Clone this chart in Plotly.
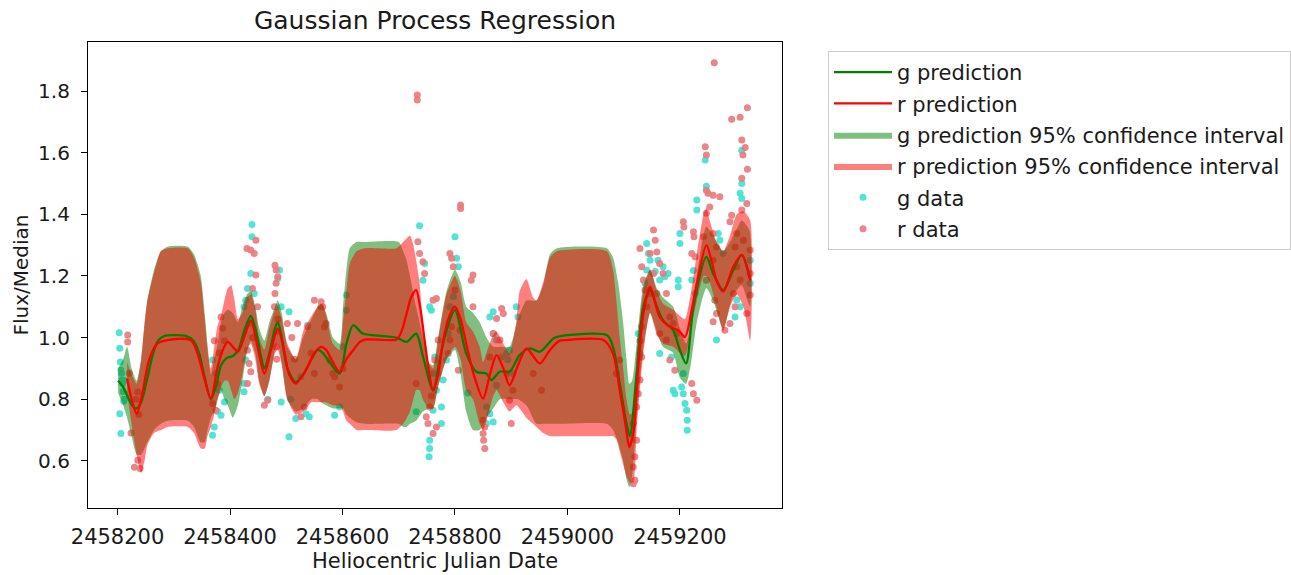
import plotly.graph_objects as go

# ---------------- data ----------------
g_pred_x = [2458201, 2458210, 2458220, 2458228, 2458234, 2458242, 2458252, 2458262, 2458272, 2458283,
            2458300, 2458320, 2458335, 2458345, 2458355, 2458366, 2458375, 2458384, 2458395, 2458405,
            2458415, 2458425, 2458437, 2458445, 2458455, 2458461, 2458470, 2458480, 2458485, 2458492,
            2458502, 2458517, 2458530, 2458545, 2458556, 2458565, 2458577, 2458595, 2458607, 2458619,
            2458636, 2458654, 2458696, 2458714, 2458731, 2458743, 2458761, 2458773, 2458785, 2458800,
            2458820, 2458838, 2458856, 2458865, 2458880, 2458897, 2458915, 2458933, 2458951, 2458975,
            2458986, 2459000, 2459070, 2459081, 2459093, 2459105, 2459111, 2459123, 2459135, 2459147,
            2459159, 2459170, 2459188, 2459200, 2459211, 2459224, 2459247, 2459259, 2459277, 2459295,
            2459310, 2459325]
g_pred_y = [0.860, 0.840, 0.800, 0.775, 0.770, 0.790, 0.860, 0.940, 0.990, 1.005,
            1.008, 1.006, 0.990, 0.950, 0.870, 0.800, 0.840, 0.910, 0.935, 0.940,
            0.960, 1.020, 1.070, 1.030, 0.940, 0.900, 0.950, 1.030, 1.050, 1.000,
            0.900, 0.856, 0.880, 0.930, 0.960, 0.950, 0.920, 0.883, 0.980, 1.040,
            1.013, 1.008, 1.000, 0.986, 1.013, 0.940, 0.829, 0.930, 1.024, 1.089,
            0.948, 0.889, 0.883, 0.862, 0.890, 0.889, 0.943, 0.965, 0.954, 0.997,
            1.004, 1.008, 1.008, 0.970, 0.851, 0.721, 0.680, 0.883, 1.100, 1.154,
            1.100, 1.056, 1.024, 0.959, 0.916, 1.100, 1.262, 1.208, 1.154, 1.219,
            1.268, 1.186]

r_pred_x = [2458217, 2458225, 2458234, 2458244, 2458256, 2458271, 2458289, 2458330, 2458342, 2458354,
            2458366, 2458378, 2458387, 2458396, 2458405, 2458414, 2458425, 2458437, 2458449, 2458461,
            2458473, 2458485, 2458497, 2458505, 2458517, 2458530, 2458538, 2458550, 2458562, 2458571,
            2458583, 2458595, 2458607, 2458619, 2458631, 2458642, 2458696, 2458705, 2458714, 2458722,
            2458731, 2458738, 2458746, 2458753, 2458761, 2458770, 2458779, 2458790, 2458800, 2458810,
            2458820, 2458835, 2458850, 2458862, 2458874, 2458886, 2458897, 2458912, 2458927, 2458939,
            2458951, 2458969, 2458986, 2458998, 2459064, 2459081, 2459093, 2459103, 2459110, 2459118,
            2459123, 2459135, 2459147, 2459155, 2459164, 2459182, 2459197, 2459209, 2459220, 2459230,
            2459247, 2459256, 2459265, 2459277, 2459295, 2459310, 2459325]
r_pred_y = [0.867, 0.800, 0.753, 0.818, 0.927, 0.981, 0.992, 0.992, 0.950, 0.870,
            0.802, 0.905, 0.959, 0.986, 0.970, 0.954, 1.000, 1.056, 0.970, 0.883,
            0.960, 1.029, 0.950, 0.880, 0.851, 0.880, 0.905, 0.950, 0.970, 0.960,
            0.920, 0.889, 0.930, 0.959, 0.986, 0.994, 0.994, 1.020, 1.078, 1.130,
            1.154, 1.100, 0.992, 0.900, 0.829, 0.880, 0.990, 1.070, 1.100, 1.060,
            0.980, 0.870, 0.802, 0.880, 0.943, 0.900, 0.845, 0.910, 0.965, 0.940,
            0.916, 0.960, 0.990, 0.992, 0.992, 0.948, 0.829, 0.720, 0.645, 0.700,
            0.830, 1.078, 1.165, 1.120, 1.067, 1.035, 1.024, 1.002, 1.080, 1.176,
            1.300, 1.250, 1.186, 1.149, 1.230, 1.268, 1.186]

g_ci_x = [2458201, 2458210, 2458217, 2458225, 2458234, 2458242, 2458253, 2458265, 2458277, 2458289,
          2458325, 2458336, 2458348, 2458355, 2458360, 2458366, 2458372, 2458378, 2458384, 2458390,
          2458396, 2458405, 2458414, 2458422, 2458430, 2458437, 2458445, 2458452, 2458461, 2458470,
          2458480, 2458485, 2458492, 2458502, 2458517, 2458530, 2458545, 2458556, 2458562, 2458571,
          2458583, 2458595, 2458601, 2458607, 2458613, 2458625, 2458640, 2458700, 2458708, 2458714,
          2458720, 2458731, 2458743, 2458753, 2458761, 2458770, 2458785, 2458800, 2458810, 2458820,
          2458832, 2458844, 2458856, 2458868, 2458880, 2458897, 2458912, 2458927, 2458945, 2458957,
          2458969, 2458981, 2459070, 2459081, 2459090, 2459099, 2459105, 2459110, 2459115, 2459123,
          2459135, 2459147, 2459159, 2459170, 2459188, 2459200, 2459211, 2459220, 2459230, 2459247,
          2459259, 2459277, 2459295, 2459310, 2459320, 2459325]
g_ci_upper = [0.90, 0.93, 0.97, 0.90, 0.86, 0.93, 1.12, 1.22, 1.28, 1.295,
              1.295, 1.27, 1.20, 1.08, 0.98, 0.88, 0.93, 0.98, 1.05, 1.08,
              1.09, 1.08, 1.05, 1.10, 1.14, 1.15, 1.10, 1.03, 0.99, 1.05,
              1.10, 1.12, 1.08, 0.97, 0.93, 1.00, 1.06, 1.10, 1.11, 1.08,
              1.00, 0.98, 1.10, 1.22, 1.29, 1.31, 1.31, 1.31, 1.28, 1.25,
              1.20, 1.10, 1.00, 0.92, 0.91, 1.00, 1.15, 1.22, 1.18, 1.10,
              1.08, 1.05, 1.00, 0.97, 0.97, 0.97, 1.06, 1.12, 1.12, 1.17,
              1.27, 1.29, 1.29, 1.26, 1.18, 1.05, 0.93, 0.85, 0.86, 0.98,
              1.17, 1.22, 1.16, 1.13, 1.10, 1.03, 0.98, 1.05, 1.20, 1.36,
              1.33, 1.28, 1.33, 1.38, 1.36, 1.34]
g_ci_lower = [0.82, 0.78, 0.74, 0.68, 0.62, 0.62, 0.66, 0.70, 0.72, 0.73,
              0.73, 0.71, 0.66, 0.66, 0.70, 0.74, 0.76, 0.80, 0.83, 0.80,
              0.78, 0.74, 0.78, 0.86, 0.95, 0.99, 0.95, 0.86, 0.81, 0.86,
              0.96, 0.98, 0.92, 0.80, 0.76, 0.77, 0.80, 0.80, 0.79, 0.78,
              0.77, 0.77, 0.77, 0.75, 0.74, 0.725, 0.72, 0.72, 0.71, 0.71,
              0.72, 0.73, 0.76, 0.77, 0.77, 0.84, 0.93, 0.96, 0.88, 0.76,
              0.70, 0.70, 0.74, 0.77, 0.80, 0.80, 0.80, 0.78, 0.72, 0.72,
              0.72, 0.72, 0.72, 0.70, 0.66, 0.60, 0.54, 0.515, 0.55, 0.74,
              0.97, 1.08, 1.02, 0.97, 0.95, 0.87, 0.85, 0.92, 1.05, 1.16,
              1.12, 1.03, 1.14, 1.17, 1.12, 1.10]

r_ci_x = [2458217, 2458225, 2458234, 2458242, 2458248, 2458253, 2458265, 2458277, 2458289, 2458325,
          2458336, 2458348, 2458355, 2458360, 2458366, 2458372, 2458378, 2458384, 2458390, 2458396,
          2458402, 2458408, 2458414, 2458422, 2458430, 2458437, 2458445, 2458452, 2458461, 2458470,
          2458480, 2458485, 2458492, 2458502, 2458517, 2458530, 2458545, 2458556, 2458565, 2458571,
          2458583, 2458595, 2458601, 2458607, 2458613, 2458625, 2458640, 2458696, 2458708, 2458720,
          2458726, 2458731, 2458737, 2458743, 2458753, 2458761, 2458770, 2458785, 2458800, 2458810,
          2458820, 2458832, 2458844, 2458850, 2458856, 2458868, 2458874, 2458886, 2458897, 2458909,
          2458915, 2458927, 2458939, 2458945, 2458957, 2458969, 2458981, 2459070, 2459081, 2459087,
          2459093, 2459099, 2459105, 2459111, 2459117, 2459123, 2459135, 2459147, 2459159, 2459170,
          2459188, 2459200, 2459209, 2459220, 2459230, 2459242, 2459247, 2459253, 2459265, 2459277,
          2459289, 2459301, 2459313, 2459325]
r_ci_upper = [0.92, 0.88, 0.85, 0.93, 1.05, 1.12, 1.21, 1.28, 1.29, 1.29,
              1.26, 1.18, 1.06, 0.96, 0.90, 0.97, 1.04, 1.07, 1.12, 1.16,
              1.17, 1.12, 1.06, 1.08, 1.13, 1.14, 1.09, 1.00, 0.96, 1.03,
              1.09, 1.10, 1.06, 0.98, 0.93, 1.02, 1.07, 1.10, 1.11, 1.07,
              0.98, 0.96, 1.05, 1.15, 1.24, 1.28, 1.29, 1.29, 1.31, 1.33,
              1.30, 1.25, 1.18, 1.04, 0.92, 0.90, 0.99, 1.14, 1.20, 1.15,
              1.05, 1.02, 0.97, 0.92, 0.95, 1.01, 1.02, 0.98, 0.95, 1.05,
              1.15, 1.19, 1.13, 1.12, 1.18, 1.26, 1.28, 1.28, 1.22, 1.12,
              1.00, 0.90, 0.80, 0.75, 0.76, 0.94, 1.15, 1.22, 1.15, 1.11,
              1.09, 1.07, 1.06, 1.15, 1.27, 1.40, 1.42, 1.38, 1.31, 1.28,
              1.33, 1.40, 1.41, 1.38]
r_ci_lower = [0.82, 0.72, 0.62, 0.56, 0.60, 0.65, 0.69, 0.70, 0.71, 0.71,
              0.69, 0.64, 0.64, 0.68, 0.71, 0.75, 0.80, 0.84, 0.86, 0.86,
              0.83, 0.80, 0.82, 0.88, 0.96, 0.98, 0.93, 0.85, 0.81, 0.86,
              0.95, 0.96, 0.91, 0.80, 0.75, 0.76, 0.79, 0.79, 0.79, 0.79,
              0.78, 0.78, 0.76, 0.73, 0.72, 0.70, 0.70, 0.70, 0.72, 0.76,
              0.80, 0.83, 0.83, 0.80, 0.77, 0.77, 0.84, 0.93, 0.97, 0.93,
              0.83, 0.80, 0.72, 0.70, 0.73, 0.81, 0.83, 0.79, 0.76, 0.78,
              0.77, 0.74, 0.72, 0.71, 0.69, 0.68, 0.68, 0.68, 0.68, 0.67,
              0.63, 0.59, 0.55, 0.53, 0.53, 0.70, 0.95, 1.08, 1.01, 0.98,
              0.97, 0.95, 0.94, 1.03, 1.12, 1.20, 1.20, 1.18, 1.10, 1.02,
              1.10, 1.14, 1.10, 0.99]

g_data_x = [2458203, 2458204, 2458205, 2458206, 2458207, 2458208, 2458209, 2458210, 2458211, 2458204,
            2458206, 2458212, 2458212,
            2458369, 2458375, 2458381, 2458384, 2458372, 2458369, 2458390, 2458378,
            2458439, 2458439, 2458437, 2458431, 2458428, 2458425, 2458443, 2458434, 2458428, 2458425, 2458425,
            2458488, 2458485, 2458491, 2458505, 2458467, 2458505, 2458491,
            2458508, 2458517, 2458538, 2458541, 2458535, 2458526,
            2458607, 2458607, 2458586, 2458595, 2458601,
            2458737, 2458731, 2458743, 2458746,
            2458755, 2458758, 2458761, 2458764, 2458770, 2458767, 2458776, 2458779, 2458755, 2458754,
            2458755, 2458776, 2458761,
            2458800, 2458803, 2458806, 2458797, 2458791, 2458788, 2458785, 2458823,
            2458868, 2458862, 2458868, 2458874, 2458883, 2458856, 2458862, 2458868, 2458856, 2458892,
            2458894, 2458897, 2458909, 2458912, 2458903, 2458874,
            2459129, 2459126, 2459141, 2459144, 2459147, 2459141, 2459138,
            2459164, 2459161, 2459170, 2459173, 2459156, 2459179, 2459164, 2459185, 2459188, 2459191,
            2459197, 2459197, 2459200, 2459200, 2459203, 2459206, 2459209, 2459212, 2459213, 2459213,
            2459206, 2459230, 2459230, 2459224, 2459221, 2459227,
            2459245, 2459247, 2459265, 2459268, 2459271, 2459277,
            2459310, 2459310, 2459307, 2459310, 2459325, 2459325, 2459301, 2459307, 2459298]
g_data_y = [1.016, 0.965, 0.921, 0.895, 0.884, 0.862, 0.851, 0.825, 0.793, 0.753,
            0.689, 0.860, 0.800,
            0.927, 0.883, 0.829, 0.748, 0.710, 0.683, 0.791, 0.760,
            1.367, 1.327, 1.208, 1.159, 1.121, 1.100, 1.143, 1.046, 0.927, 0.851, 0.824,
            1.219, 1.192, 1.100, 1.084, 0.800, 0.678, 0.791,
            0.800, 0.737, 1.040, 0.743, 0.753, 0.873,
            1.138, 1.089, 0.748, 0.775, 0.970,
            1.363, 0.759, 1.186, 1.240,
            1.100, 1.089, 0.883, 0.937, 0.883, 0.829, 0.775, 0.862, 0.667, 0.613,
            0.640, 0.721, 0.764,
            1.327, 1.257, 1.230, 1.133, 1.100, 1.013, 0.927, 0.820,
            1.084, 1.067, 1.013, 0.992, 0.937, 0.775, 0.753, 0.726, 0.721, 0.948,
            0.927, 0.959, 1.100, 1.067, 0.883, 0.845,
            0.948, 1.013, 1.305, 1.273, 1.251, 1.219, 1.176,
            1.187, 1.251, 1.230, 1.197, 1.214, 1.208, 0.948, 0.937, 0.829, 0.818,
            1.187, 1.165, 1.338, 1.305, 0.840, 0.818, 0.786, 0.764, 0.732, 0.699,
            0.883, 1.446, 1.414, 1.218, 1.187, 1.143,
            1.576, 1.491, 0.992, 1.338, 1.316, 1.273,
            1.608, 1.500, 1.468, 1.451, 1.251, 1.176, 1.122, 1.100, 1.067]

r_data_x = [2458218, 2458218, 2458221, 2458236, 2458224, 2458236, 2458230, 2458240, 2458233, 2458238,
            2458372, 2458384, 2458390, 2458369, 2458375, 2458378, 2458381, 2458387,
            2458430, 2458437, 2458446, 2458443, 2458446, 2458440, 2458431, 2458434, 2458437, 2458431,
            2458449, 2458440,
            2458480, 2458482, 2458485, 2458482, 2458480, 2458479, 2458482, 2458482, 2458483, 2458467,
            2458461, 2458485,
            2458502, 2458520, 2458526, 2458538, 2458550, 2458562, 2458532, 2458550, 2458568, 2458544,
            2458515, 2458510,
            2458562, 2458565, 2458571, 2458583, 2458595, 2458586, 2458577, 2458601,
            2458734, 2458737, 2458733, 2458733, 2458731, 2458743, 2458746,
            2458761, 2458767, 2458770, 2458764, 2458755, 2458749, 2458752, 2458761, 2458767, 2458758,
            2458810, 2458810, 2458791, 2458794, 2458797, 2458800, 2458794, 2458791, 2458788, 2458832,
            2458829, 2458832, 2458806, 2458809,
            2458874, 2458883, 2458886, 2458853, 2458850, 2458851, 2458853, 2458850, 2458868, 2458880,
            2458900, 2458897, 2458903, 2458892, 2458862,
            2458939, 2458954,
            2459093, 2459087,
            2459117, 2459120, 2459117, 2459120, 2459123, 2459117, 2459123, 2459126, 2459129, 2459132,
            2459129, 2459132, 2459129, 2459132, 2459135, 2459138,
            2459153, 2459156, 2459147, 2459159, 2459164, 2459170, 2459153, 2459147, 2459159, 2459176,
            2459141, 2459182, 2459188, 2459194, 2459176, 2459164, 2459182, 2459191, 2459206, 2459207,
            2459224, 2459225, 2459221, 2459227, 2459221, 2459224, 2459230,
            2459261, 2459245, 2459247, 2459247, 2459250, 2459259, 2459271, 2459253, 2459247, 2459259,
            2459242, 2459265, 2459259, 2459247, 2459262, 2459265, 2459259,
            2459292, 2459307, 2459320, 2459310, 2459316, 2459312, 2459310, 2459320, 2459319, 2459310,
            2459292, 2459289, 2459301, 2459298, 2459313, 2459325, 2459301, 2459325, 2459307, 2459295,
            2459325, 2459298, 2459289, 2459280, 2459319]
r_data_y = [1.008, 0.986, 0.884, 0.823, 0.690, 0.602, 0.579, 0.575, 0.800, 0.750,
            0.990, 1.067, 0.990, 0.786, 0.764, 0.850, 0.950, 1.030,
            1.289, 1.284, 1.316, 1.273, 1.203, 1.159, 0.959, 0.916, 0.889, 0.851,
            1.100, 1.000,
            1.235, 1.219, 1.197, 1.176, 1.143, 1.100, 1.020, 0.970, 0.930, 0.797,
            0.780, 1.060,
            1.046, 1.046, 0.743, 1.035, 1.121, 1.100, 0.775, 0.883, 1.035, 0.950,
            0.930, 1.000,
            1.116, 1.100, 1.046, 0.883, 0.840, 0.873, 0.927, 0.900,
            1.311, 1.273, 1.787, 1.771, 0.851, 1.246, 1.208,
            1.121, 1.127, 0.992, 0.927, 0.775, 0.743, 0.721, 0.689, 0.710, 0.810,
            1.430, 1.419, 1.273, 1.257, 1.230, 1.154, 1.035, 0.992, 0.948, 1.203,
            1.186, 1.100, 0.894, 1.024,
            1.062, 1.094, 1.078, 0.710, 0.689, 0.667, 0.640, 0.732, 1.013, 0.992,
            0.721, 0.797, 0.829, 0.883, 0.937,
            0.883, 0.829,
            0.927, 0.883,
            0.526, 0.537, 0.580, 0.613, 0.667, 0.721, 0.775, 0.818, 0.862, 0.937,
            0.990, 1.035, 1.289, 1.230, 1.187, 1.154,
            1.349, 1.316, 1.273, 1.278, 1.240, 1.208, 1.208, 1.143, 1.143, 1.143,
            1.100, 1.067, 1.046, 1.013, 0.992, 1.013, 0.927, 0.894, 1.376, 1.359,
            1.343, 1.327, 1.273, 1.262, 0.851, 0.818, 0.797,
            1.892, 1.619, 1.592, 1.478, 1.468, 1.462, 1.457, 1.424, 1.403, 1.338,
            1.327, 1.294, 1.251, 1.186, 1.121, 1.078, 1.051,
            1.708, 1.715, 1.746, 1.641, 1.617, 1.592, 1.517, 1.546, 1.435, 1.414,
            1.397, 1.376, 1.338, 1.294, 1.316, 1.284, 1.230, 1.208, 1.187, 1.143,
            1.138, 1.100, 1.046, 1.024, 1.078]

x_ticks = [2458200, 2458400, 2458600, 2458800, 2459000, 2459200]
y_ticks = [0.6, 0.8, 1.0, 1.2, 1.4, 1.6, 1.8]

# ---------------- figure ----------------
FONT = "DejaVu Sans"
TXT = "#1a1a1a"

fig = go.Figure()

fig.add_trace(go.Scatter(x=g_data_x, y=g_data_y, mode="markers", name="g data",
                         marker=dict(color="rgb(64,224,208)", size=7, opacity=0.9,
                                     line=dict(width=0)),
                         legendrank=5, legendgroup="e"))
fig.add_trace(go.Scatter(x=r_data_x, y=r_data_y, mode="markers", name="r data",
                         marker=dict(color="rgb(232,120,124)", size=7, opacity=0.9,
                                     line=dict(width=0)),
                         legendrank=6, legendgroup="f"))

fig.add_trace(go.Scatter(x=g_ci_x + g_ci_x[::-1], y=g_ci_upper + g_ci_lower[::-1],
                         fill="toself", fillcolor="rgba(0,128,0,0.5)", mode="lines",
                         line=dict(width=0, shape="spline", smoothing=0.6),
                         name="g prediction 95% confidence interval",
                         legendrank=3, legendgroup="c"))
fig.add_trace(go.Scatter(x=r_ci_x + r_ci_x[::-1], y=r_ci_upper + r_ci_lower[::-1],
                         fill="toself", fillcolor="rgba(255,0,0,0.5)", mode="lines",
                         line=dict(width=0, shape="spline", smoothing=0.6),
                         name="r prediction 95% confidence interval",
                         legendrank=4, legendgroup="d"))

fig.add_trace(go.Scatter(x=g_pred_x, y=g_pred_y, mode="lines", name="g prediction",
                         line=dict(color="rgb(0,128,0)", width=2.3, shape="spline", smoothing=0.8),
                         legendrank=1, legendgroup="a"))
fig.add_trace(go.Scatter(x=r_pred_x, y=r_pred_y, mode="lines", name="r prediction",
                         line=dict(color="rgb(255,0,0)", width=2.3, shape="spline", smoothing=0.8),
                         legendrank=2, legendgroup="b"))

axis_common = dict(showgrid=False, zeroline=False, showline=True, mirror=True,
                   linecolor="black", linewidth=1.2, ticks="outside", ticklen=6,
                   tickcolor="black", tickwidth=1.2)

fig.update_layout(
    width=1291, height=575,
    margin=dict(l=88, r=509, t=42, b=67, autoexpand=False),
    paper_bgcolor="white", plot_bgcolor="white",
    font=dict(family=FONT, color=TXT),
    title=dict(text="Gaussian Process Regression", x=0.5, xref="paper",
               y=1 - 20 / 575, yref="container", yanchor="middle",
               font=dict(family=FONT, size=25, color=TXT)),
    xaxis=dict(range=[2458147.5, 2459381.5], tickvals=x_ticks, tickformat="d",
               tickfont=dict(family=FONT, size=21, color=TXT), ticklabelstandoff=4,
               title=dict(text="Heliocentric Julian Date", standoff=4,
                          font=dict(family=FONT, size=21, color=TXT)),
               **axis_common),
    yaxis=dict(range=[0.447, 1.959], tickvals=y_ticks, tickformat=".1f",
               tickfont=dict(family=FONT, size=20, color=TXT), ticklabelstandoff=7,
               title=dict(text="Flux/Median", standoff=4,
                          font=dict(family=FONT, size=20, color=TXT)),
               **axis_common),
    legend=dict(x=(828 - 88) / 694, xanchor="left", y=1 - 9 / 466, yanchor="top",
                bgcolor="white", bordercolor="#cccccc", borderwidth=1,
                font=dict(family=FONT, size=21, color=TXT),
                traceorder="grouped", tracegroupgap=1, itemwidth=58),
    showlegend=True,
)

fig.write_html("out.html")
